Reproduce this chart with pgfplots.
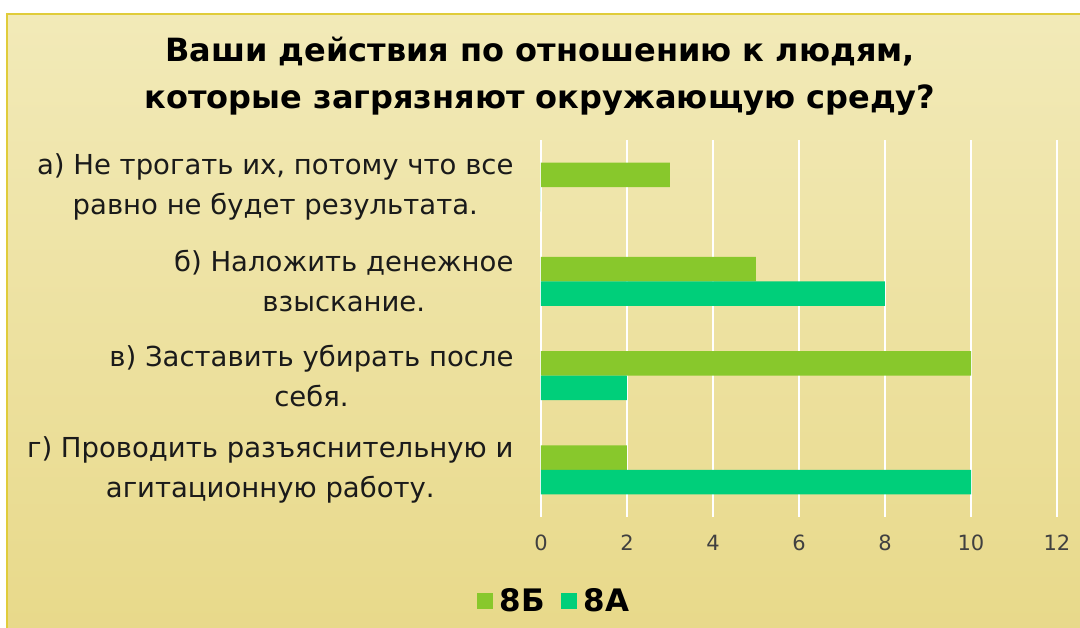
\documentclass[border=0pt]{standalone}
\usepackage{pgfplots}
\pgfplotsset{compat=1.18}
\usepackage{fontspec}
\setmainfont{DejaVu Sans}
\definecolor{cB}{HTML}{88C82C}
\definecolor{cA}{HTML}{00CF7A}
\definecolor{bgtop}{HTML}{F2EAB8}
\definecolor{bgbot}{HTML}{E8D98A}
\definecolor{framec}{HTML}{E0CC3A}
\definecolor{ticktxt}{HTML}{404040}
\definecolor{labtxt}{HTML}{1A1A1A}
\begin{document}
\begin{tikzpicture}[x=1pt,y=1pt]
\useasboundingbox (0,0) rectangle (1080,628);
\fill[white] (0,0) rectangle (1080,628);
\shade[top color=bgtop,bottom color=bgbot] (7,-3) rectangle (1090,614);
\draw[framec,line width=2pt] (7,-3) rectangle (1090,614);
\node[font=\bfseries\fontsize{32}{47}\selectfont, align=center] at (540,552) {Ваши действия по отношению к людям,\\которые загрязняют окружающую среду?};
\begin{axis}[
  at={(541pt,111pt)}, anchor=south west, scale only axis,
  width=516pt, height=377pt,
  xbar=0pt, bar width=24.5pt,
  xmin=0, xmax=12, ymin=-0.5, ymax=3.5, y dir=reverse,
  xtick={0,2,4,6,8,10,12}, ytick={0,1,2,3},
  yticklabels={{а) Не трогать их, потому что все\\равно не будет результата.},
               {б) Наложить денежное\\взыскание.},
               {в) Заставить убирать после\\себя.},
               {г) Проводить разъяснительную и\\агитационную работу.}},
  yticklabel style={align=center, font=\fontsize{27.5}{40}\selectfont, text=labtxt, xshift=-24pt},
  xticklabel style={font=\fontsize{21}{24}\selectfont, text=ticktxt, text height=15pt, text depth=0pt, yshift=-15pt},
  /pgf/number format/assume math mode=true,
  axis line style={draw=none}, major tick length=0pt,
  xmajorgrids, grid style={white, line width=1.5pt},
  legend style={at={(0.025,-0.223)}, anchor=center, draw=none, fill=none,
    legend columns=2, font=\bfseries\fontsize{31}{34}\selectfont,
    /tikz/every odd column/.append style={column sep=5pt},
    /tikz/every even column/.append style={column sep=14pt}},
  legend image code/.code={\fill[#1] (0pt,-8pt) rectangle (16pt,8pt);},
]
\addplot[fill=cB, draw=none, bar shift=12.25pt] coordinates {(3,0) (5,1) (10,2) (2,3)};
\addplot[fill=cA, draw=none, bar shift=-12.25pt] coordinates {(0,0) (8,1) (2,2) (10,3)};
\legend{8Б, 8А}
\end{axis}
\end{tikzpicture}
\end{document}
